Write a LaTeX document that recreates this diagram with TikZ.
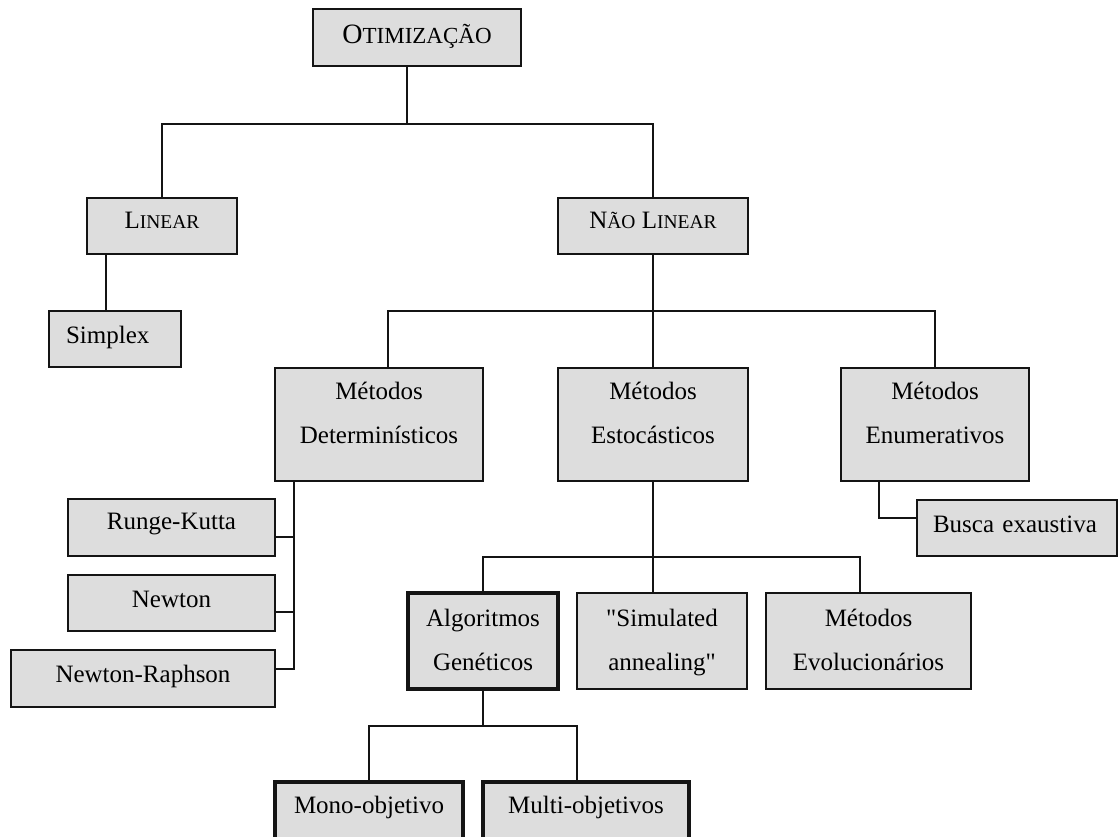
\documentclass[tikz,border=0pt]{standalone}
\usepackage{fontspec}
\setmainfont{Liberation Serif}

\definecolor{boxgray}{RGB}{221,221,221}
\definecolor{linegray}{RGB}{20,20,20}

\newcommand{\twolines}[2]{\begin{tabular}[b]{@{}c@{}}#1\\#2\end{tabular}}
\newcommand{\smallcap}[2]{#1{\fontsize{19.5}{19.5}\selectfont #2}}

\tikzset{
    box/.style={draw=linegray, fill=boxgray, line width=1.5pt, inner xsep=0pt, inner ysep=0pt, anchor=base},
    onerow/.style={box, text height=31pt, text depth=25pt},
    tworow/.style={box, text height=75pt, text depth=38pt},
    tworowlow/.style={box, text height=77pt, text depth=19pt},
    thickbox/.style={line width=3.5pt},
    conn/.style={draw=linegray, line width=1.5pt}
}

\begin{document}
\begin{tikzpicture}[x=1pt, y=-1pt, font=\fontsize{25}{44}\selectfont]
    \useasboundingbox (0,0) rectangle (1119,837);

    \node[box, text height=35pt, text depth=22pt, minimum width=208pt] (otim) at (417,44)
        {\fontsize{28}{28}\selectfont O{\fontsize{23}{23}\selectfont TIMIZAÇÃO}};

    \node[onerow, minimum width=150pt] (lin) at (162,229) {\smallcap{L}{INEAR}};
    \node[onerow, minimum width=190pt] (nlin) at (653,229) {\smallcap{N}{ÃO} \smallcap{L}{INEAR}};

    \node[box, text height=32pt, text depth=24pt, text width=98pt, align=left, inner xsep=17pt] (simplex) at (115,343) {Simplex};

    \node[tworow, minimum width=208pt] (det) at (379,443) {\twolines{Métodos}{Determinísticos}};
    \node[tworow, minimum width=190pt] (est) at (653,443) {\twolines{Métodos}{Estocásticos}};
    \node[tworow, minimum width=188pt] (enum) at (935,443) {\twolines{Métodos}{Enumerativos}};

    \node[box, text height=32pt, text depth=24pt, text width=168pt, align=left, inner xsep=16pt] (busca) at (1017,532) {Busca exaustiva};

    \node[box, text height=30pt, text depth=27pt, minimum width=207pt] (rk) at (171.5,529) {Runge-Kutta};
    \node[box, text height=32pt, text depth=24pt, minimum width=207pt] (newton) at (171.5,607) {Newton};
    \node[box, text height=32pt, text depth=25pt, minimum width=264pt] (nr) at (143,682) {Newton-Raphson};

    \node[tworowlow, thickbox, minimum width=150pt] (alg) at (483,670) {\twolines{Algoritmos}{Genéticos}};
    \node[tworowlow, minimum width=170pt] (sim) at (662,670) {\twolines{\textquotedbl Simulated}{annealing\textquotedbl}};
    \node[tworowlow, minimum width=205pt] (evol) at (868.5,670) {\twolines{Métodos}{Evolucionários}};

    \node[onerow, thickbox, text depth=28pt, minimum width=188pt] (mono) at (369,813) {Mono-objetivo};
    \node[onerow, thickbox, text depth=28pt, minimum width=206pt] (multi) at (586,813) {Multi-objetivos};

% otimizacao
    \coordinate (j1) at (407,124);
    \draw[conn] (j1 |- otim.south) -- (j1);
    \draw[conn] (lin.north) |- (j1) -| (nlin.north);

% linear
    \coordinate (j2) at (106,254);
    \draw[conn] (j2 |- lin.south) -- (j2 |- simplex.north);

% nao linear
    \coordinate (j3) at (653,311);
    \coordinate (j4) at (388,311);
    \draw[conn] (nlin.south) -- (j3);
    \draw[conn] (j4 |- det.north) -- (j4) -| (enum.north);
    \draw[conn] (est.north) -- (est.north |- j3);

% deterministicos
    \coordinate (j5) at (294,669);
    \draw[conn] (j5 |- det.south) -- (j5) -- (j5 -| nr.east);
    \draw[conn] ([yshift=-9.5pt]rk.east) -- ([yshift=-9.5pt]rk.east -| j5);
    \draw[conn] ([yshift=-9pt]newton.east) -- ([yshift=-9pt]newton.east -| j5);

% enumerativos
    \coordinate (j6) at (879,518);
    \draw[conn] (j6 |- enum.south) -- (j6) -- (j6 -| busca.west);

% estocasticos
    \coordinate (j8) at (860,557);
    \draw[conn] (est.south) -- (est.south |- sim.north);
    \draw[conn] (alg.north) |- (j8) -- (j8 |- evol.north);

% geneticos
    \coordinate (j9) at (482,726);
    \coordinate (j10) at (577,726);
    \draw[conn] (alg.south) -- (alg.south |- j9);
    \draw[conn] (mono.north) |- (j10) -- (j10 |- multi.north);

\end{tikzpicture}
\end{document}
